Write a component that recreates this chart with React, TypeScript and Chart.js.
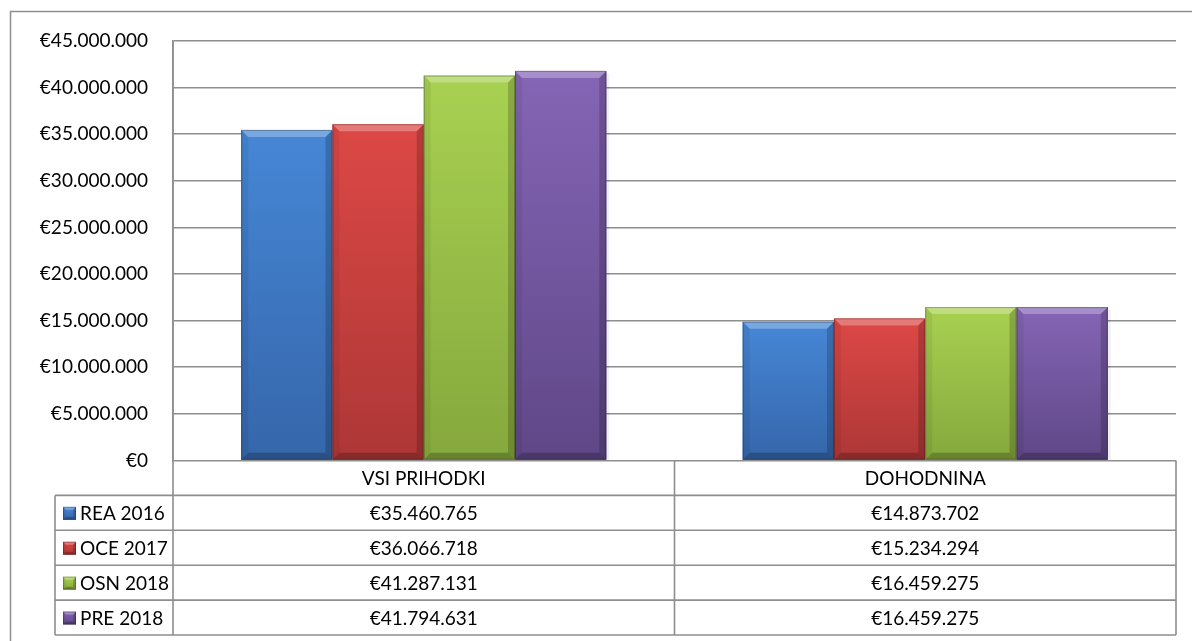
import React, { useEffect, useRef } from "react";
import { Chart, registerables } from "chart.js";

Chart.register(...registerables);

const categories = ["VSI PRIHODKI", "DOHODNINA"];
const seriesNames = ["REA 2016", "OCE 2017", "OSN 2018", "PRE 2018"];
const rea2016 = [35460765, 14873702];
const oce2017 = [36066718, 15234294];
const osn2018 = [41287131, 16459275];
const pre2018 = [41794631, 16459275];
const yMax = 45000000;
const yStep = 5000000;

const baseColors = ["#3d79c4", "#cf403e", "#9cc548", "#7b5ca8"];
const topColors = ["#4687d6", "#dc4846", "#a8d151", "#8565b6"];
const bottomColors = ["#3566aa", "#ad3736", "#86a83d", "#5f4787"];

const FONT = "Lato, 'Open Sans', sans-serif";
const GRID = "#8e8e8e";

function euro(n: number): string {
  return "€" + String(Math.round(n)).replace(/\B(?=(\d{3})+(?!\d))/g, ".");
}

function drawBevelBox(
  ctx: CanvasRenderingContext2D,
  left: number,
  top: number,
  right: number,
  bottom: number,
  i: number,
  b: number
) {
  const g = ctx.createLinearGradient(0, top, 0, bottom);
  g.addColorStop(0, topColors[i]);
  g.addColorStop(1, bottomColors[i]);
  ctx.fillStyle = g;
  ctx.fillRect(left, top, right - left, bottom - top);
  const bb = Math.min(b, (right - left) / 2, (bottom - top) / 2);
  // top bevel
  ctx.fillStyle = "rgba(255,255,255,0.28)";
  ctx.beginPath();
  ctx.moveTo(left, top);
  ctx.lineTo(right, top);
  ctx.lineTo(right - bb, top + bb);
  ctx.lineTo(left + bb, top + bb);
  ctx.closePath();
  ctx.fill();
  // left bevel
  ctx.fillStyle = "rgba(0,0,0,0.06)";
  ctx.beginPath();
  ctx.moveTo(left, top);
  ctx.lineTo(left + bb, top + bb);
  ctx.lineTo(left + bb, bottom - bb);
  ctx.lineTo(left, bottom);
  ctx.closePath();
  ctx.fill();
  // right bevel
  ctx.fillStyle = "rgba(0,0,0,0.18)";
  ctx.beginPath();
  ctx.moveTo(right, top);
  ctx.lineTo(right - bb, top + bb);
  ctx.lineTo(right - bb, bottom - bb);
  ctx.lineTo(right, bottom);
  ctx.closePath();
  ctx.fill();
  // bottom bevel
  ctx.fillStyle = "rgba(0,0,0,0.22)";
  ctx.beginPath();
  ctx.moveTo(left, bottom);
  ctx.lineTo(left + bb, bottom - bb);
  ctx.lineTo(right - bb, bottom - bb);
  ctx.lineTo(right, bottom);
  ctx.closePath();
  ctx.fill();
  // outline
  ctx.strokeStyle = "rgba(0,0,0,0.25)";
  ctx.lineWidth = 1;
  ctx.strokeRect(left + 0.5, top + 0.5, right - left - 1, bottom - top - 1);
}

const bevelPlugin = {
  id: "bevelBars",
  afterDatasetsDraw(chart: any) {
    const ctx = chart.ctx as CanvasRenderingContext2D;
    ctx.save();
    chart.data.datasets.forEach((_: any, di: number) => {
      const meta = chart.getDatasetMeta(di);
      meta.data.forEach((el: any) => {
        const { x, y, base, width } = el.getProps(["x", "y", "base", "width"], true);
        const left = x - width / 2;
        const right = x + width / 2;
        // soft shadow
        ctx.fillStyle = "rgba(0,0,0,0.06)";
        ctx.fillRect(right, y + 3, 3, base - y - 3);
        drawBevelBox(ctx, left, y, right, base, di, 7);
      });
    });
    ctx.restore();
  },
};

const tablePlugin = {
  id: "dataTable",
  afterDraw(chart: any) {
    const ctx = chart.ctx as CanvasRenderingContext2D;
    const xs = chart.scales.x;
    const ys = chart.scales.y;
    const area = chart.chartArea;
    const top = ys.getPixelForValue(0);
    const left = area.left;
    const right = area.right;
    const colLeft = 55;
    const rowH = 34.9;
    const mid = (xs.getPixelForValue(0) + xs.getPixelForValue(1)) / 2;
    const cols = [left, mid, right];
    const nRows = seriesNames.length + 1;
    const bottom = top + rowH * nRows;
    const allSeries = [rea2016, oce2017, osn2018, pre2018];

    ctx.save();
    // outer chart border
    ctx.strokeStyle = GRID;
    ctx.lineWidth = 1.5;
    ctx.beginPath();
    ctx.moveTo(10.5, chart.height + 2);
    ctx.lineTo(10.5, 11.5);
    ctx.lineTo(chart.width + 2, 11.5);
    ctx.stroke();

    ctx.strokeStyle = GRID;
    ctx.lineWidth = 1.6;
    ctx.beginPath();
    // horizontal lines
    for (let r = 1; r <= nRows; r++) {
      const yy = top + rowH * r;
      ctx.moveTo(colLeft, yy);
      ctx.lineTo(right, yy);
    }
    // vertical lines
    ctx.moveTo(colLeft, top + rowH);
    ctx.lineTo(colLeft, bottom);
    ctx.moveTo(left, area.top);
    ctx.lineTo(left, bottom);
    ctx.moveTo(mid, top);
    ctx.lineTo(mid, bottom);
    ctx.moveTo(right, top);
    ctx.lineTo(right, bottom);
    ctx.stroke();

    ctx.fillStyle = "#000";
    ctx.font = `19px ${FONT}`;
    ctx.textBaseline = "middle";
    ctx.textAlign = "center";
    categories.forEach((c, ci) => {
      const cx = (cols[ci] + cols[ci + 1]) / 2;
      ctx.fillText(c, cx, top + rowH / 2 + 1);
      allSeries.forEach((s, si) => {
        ctx.fillText(euro(s[ci]), cx, top + rowH * (si + 1) + rowH / 2 + 1);
      });
    });
    ctx.textAlign = "left";
    seriesNames.forEach((name, si) => {
      const cy = top + rowH * (si + 1) + rowH / 2;
      drawBevelBox(ctx, 63, cy - 6, 76, cy + 7, si, 3);
      ctx.fillStyle = "#000";
      ctx.fillText(name, 80, cy + 1);
    });
    ctx.restore();
  },
};

export default function App() {
  const ref = useRef<HTMLCanvasElement | null>(null);
  useEffect(() => {
    if (!ref.current) return;
    const seriesData = [rea2016, oce2017, osn2018, pre2018];
    const chart = new Chart(ref.current, {
      type: "bar",
      data: {
        labels: categories,
        datasets: seriesNames.map((name, i) => ({
          label: name,
          data: seriesData[i],
          backgroundColor: baseColors[i],
          borderWidth: 0,
          categoryPercentage: 0.728,
          barPercentage: 1,
        })),
      },
      options: {
        responsive: false,
        animation: false,
        events: [],
        layout: { padding: { top: 41, right: 16, bottom: 180.5, left: 0 } },
        plugins: { legend: { display: false }, tooltip: { enabled: false } },
        scales: {
          x: { display: false },
          y: {
            min: 0,
            max: yMax,
            afterFit: (s: any) => {
              s.width = 173;
            },
            border: { display: true, color: GRID, width: 1.6 },
            grid: { color: GRID, lineWidth: 1.6, drawTicks: false },
            ticks: {
              stepSize: yStep,
              padding: 25,
              color: "#000",
              font: { family: FONT, size: 19 },
              callback: (v: any) => euro(Number(v)),
            },
          },
        },
      },
      plugins: [bevelPlugin, tablePlugin],
    });
    return () => chart.destroy();
  }, []);
  return (
    <div style={{ position: "fixed", left: 0, top: 0, width: 1192, height: 641, background: "#fff" }}>
      <canvas ref={ref} width={1192} height={641} style={{ display: "block" }} />
    </div>
  );
}
